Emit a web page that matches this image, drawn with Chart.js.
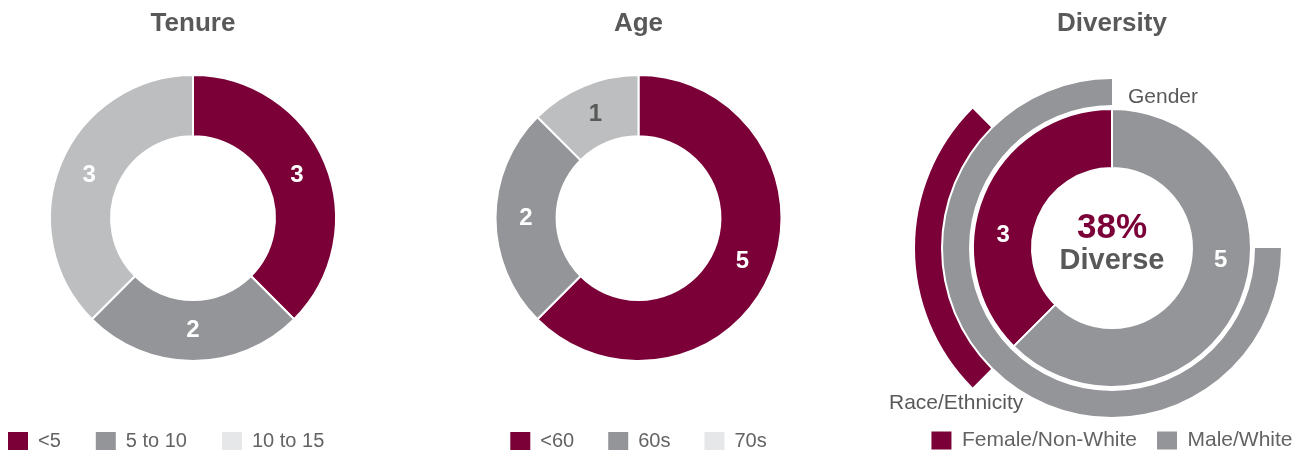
<!DOCTYPE html>
<html>
<head>
<meta charset="utf-8">
<script src="https://cdn.jsdelivr.net/npm/chart.js@4.4.1/dist/chart.umd.min.js"></script>
<style>
  body { margin: 0; background: #fff; width: 1301px; height: 451px; position: relative; overflow: hidden; }
  .caja { position: absolute; top: 0; height: 461px; }
</style>
</head>
<body>
<div class="caja" style="left:-27px; width:440px;"><canvas id="graficoAntiguedad"></canvas></div>
<div class="caja" style="left:418px; width:441px;"><canvas id="graficoEdad"></canvas></div>
<div class="caja" style="left:870px; width:484px;"><canvas id="graficoDiversidad"></canvas></div>
<script>
// datos
const etiquetasAntiguedad = ['<5', '5 to 10', '10 to 15'];
const valoresAntiguedad = [3, 2, 3];
const etiquetasEdad = ['<60', '60s', '70s'];
const valoresEdad = [5, 2, 1];
const etiquetasDiversidad = ['Female/Non-White', 'Male/White'];
const valoresDiversidad = [3, 5]; // consejo completo
const valoresGenero = [2, 6]; // mujeres, hombres
const valoresRaza = [2, 6]; // no blancos, blancos

const GRANATE = '#7A0037';
const GRIS = '#939598';
const GRIS_CLARO = '#BCBEC0';
const GRIS_LEYENDA = '#E6E7E8';
const TEXTO = '#595959';
const VACIO = 'rgba(0,0,0,0)';

Chart.defaults.font.family = '"Liberation Sans", Arial, sans-serif';
Chart.defaults.color = TEXTO;

//? Numeros blancos dentro de cada trozo
const pluginEtiquetas = {
  id: 'etiquetas',
  afterDatasetsDraw(chart) {
    const ctx = chart.ctx;
    chart.data.datasets.forEach((ds, i) => {
      if (!ds.coloresEtiqueta) return;
      const meta = chart.getDatasetMeta(i);
      meta.data.forEach((arc, j) => {
        const ang = (arc.startAngle + arc.endAngle) / 2 + (ds.giroEtiqueta || 0);
        const r = (arc.innerRadius + arc.outerRadius) / 2;
        ctx.save();
        ctx.font = 'bold 24px "Liberation Sans", Arial, sans-serif';
        ctx.fillStyle = ds.coloresEtiqueta[j];
        ctx.textAlign = 'center';
        ctx.textBaseline = 'middle';
        ctx.fillText(ds.data[j], arc.x + Math.cos(ang) * r, arc.y + Math.sin(ang) * r);
        ctx.restore();
      });
    });
  }
};

//? Texto del centro y nombres de los anillos
const pluginDiversidad = {
  id: 'textoDiversidad',
  afterDatasetsDraw(chart) {
    const ctx = chart.ctx;
    const arco = chart.getDatasetMeta(4).data[0];
    const cx = arco.x, cy = arco.y;
    const total = valoresDiversidad.reduce((a, b) => a + b, 0);
    const pct = Math.round(valoresDiversidad[0] / total * 100);
    ctx.save();
    ctx.textAlign = 'center';
    ctx.textBaseline = 'alphabetic';
    ctx.font = 'bold 35px "Liberation Sans", Arial, sans-serif';
    ctx.fillStyle = GRANATE;
    ctx.fillText(pct + '%', cx, cy - 10);
    ctx.font = 'bold 29px "Liberation Sans", Arial, sans-serif';
    ctx.fillStyle = TEXTO;
    ctx.fillText('Diverse', cx, cy + 21);
    ctx.textAlign = 'left';
    ctx.font = '21px "Liberation Sans", Arial, sans-serif';
    ctx.fillText('Gender', cx + 16, cy - 145);
    ctx.fillText('Race/Ethnicity', cx - 223, cy + 161);
    ctx.restore();
  }
};

function leyenda(colores, separacion, tam) {
  return {
    position: 'bottom',
    align: 'center',
    labels: {
      boxWidth: 20,
      boxHeight: 18,
      padding: separacion,
      color: '#636363',
      font: { size: tam || 20 },
      generateLabels: (chart) => chart.data.labels.map((t, i) => ({
        text: t, fillStyle: colores[i], strokeStyle: colores[i], lineWidth: 0, hidden: false, index: i, fontColor: '#636363'
      }))
    }
  };
}

function titulo(texto, abajo) {
  return {
    display: true,
    text: texto,
    color: TEXTO,
    font: { size: 26, weight: 'bold' },
    padding: { top: 8, bottom: abajo }
  };
}

new Chart(document.getElementById('graficoAntiguedad'), {
  type: 'doughnut',
  data: {
    labels: etiquetasAntiguedad,
    datasets: [{
      data: valoresAntiguedad,
      backgroundColor: [GRANATE, GRIS, GRIS_CLARO],
      borderColor: '#fff',
      borderWidth: 2,
      coloresEtiqueta: ['#fff', '#fff', '#fff'],
    }],
  },
  options: {
    responsive: true,
    maintainAspectRatio: false,
    animation: false,
    radius: 143,
    cutout: '57.3%',
    plugins: {
      title: titulo('Tenure', 1),
      legend: Object.assign(leyenda([GRANATE, GRIS, GRIS_LEYENDA], 35), { align: 'start' }),
      tooltip: { enabled: false },
    },
  },
  plugins: [pluginEtiquetas],
});

new Chart(document.getElementById('graficoEdad'), {
  type: 'doughnut',
  data: {
    labels: etiquetasEdad,
    datasets: [{
      data: valoresEdad,
      backgroundColor: [GRANATE, GRIS, GRIS_CLARO],
      borderColor: '#fff',
      borderWidth: 2,
      coloresEtiqueta: ['#fff', '#fff', TEXTO],
    }],
  },
  options: {
    responsive: true,
    maintainAspectRatio: false,
    animation: false,
    radius: 143,
    cutout: '57.3%',
    plugins: {
      title: titulo('Age', 0),
      legend: leyenda([GRANATE, GRIS, GRIS_LEYENDA], 34),
      tooltip: { enabled: false },
    },
  },
  plugins: [pluginEtiquetas],
});

new Chart(document.getElementById('graficoDiversidad'), {
  type: 'doughnut',
  data: {
    labels: etiquetasDiversidad,
    datasets: [
      { // raza, anillo de fuera
        data: valoresRaza,
        backgroundColor: [GRANATE, VACIO],
        borderWidth: 0,
        rotation: 225,
        weight: 26,
      },
      { data: [1], backgroundColor: VACIO, borderWidth: 0, weight: 2 },
      { // genero
        data: valoresGenero,
        backgroundColor: [VACIO, GRIS],
        borderWidth: 0,
        rotation: 0,
        weight: 26,
      },
      { data: [1], backgroundColor: VACIO, borderWidth: 0, weight: 4 },
      { // consejo
        data: valoresDiversidad,
        backgroundColor: [GRANATE, GRIS],
        borderColor: '#fff',
        borderWidth: 2,
        rotation: 225,
        weight: 59,
        coloresEtiqueta: ['#fff', '#fff'],
        giroEtiqueta: -0.28,
      },
    ],
  },
  options: {
    responsive: true,
    maintainAspectRatio: false,
    animation: false,
    radius: 197,
    cutout: '40.6%',
    plugins: {
      title: titulo('Diversity', 47),
      legend: leyenda([GRANATE, GRIS], 20, 21),
      tooltip: { enabled: false },
    },
  },
  plugins: [pluginEtiquetas, pluginDiversidad],
});
</script>
</body>
</html>
